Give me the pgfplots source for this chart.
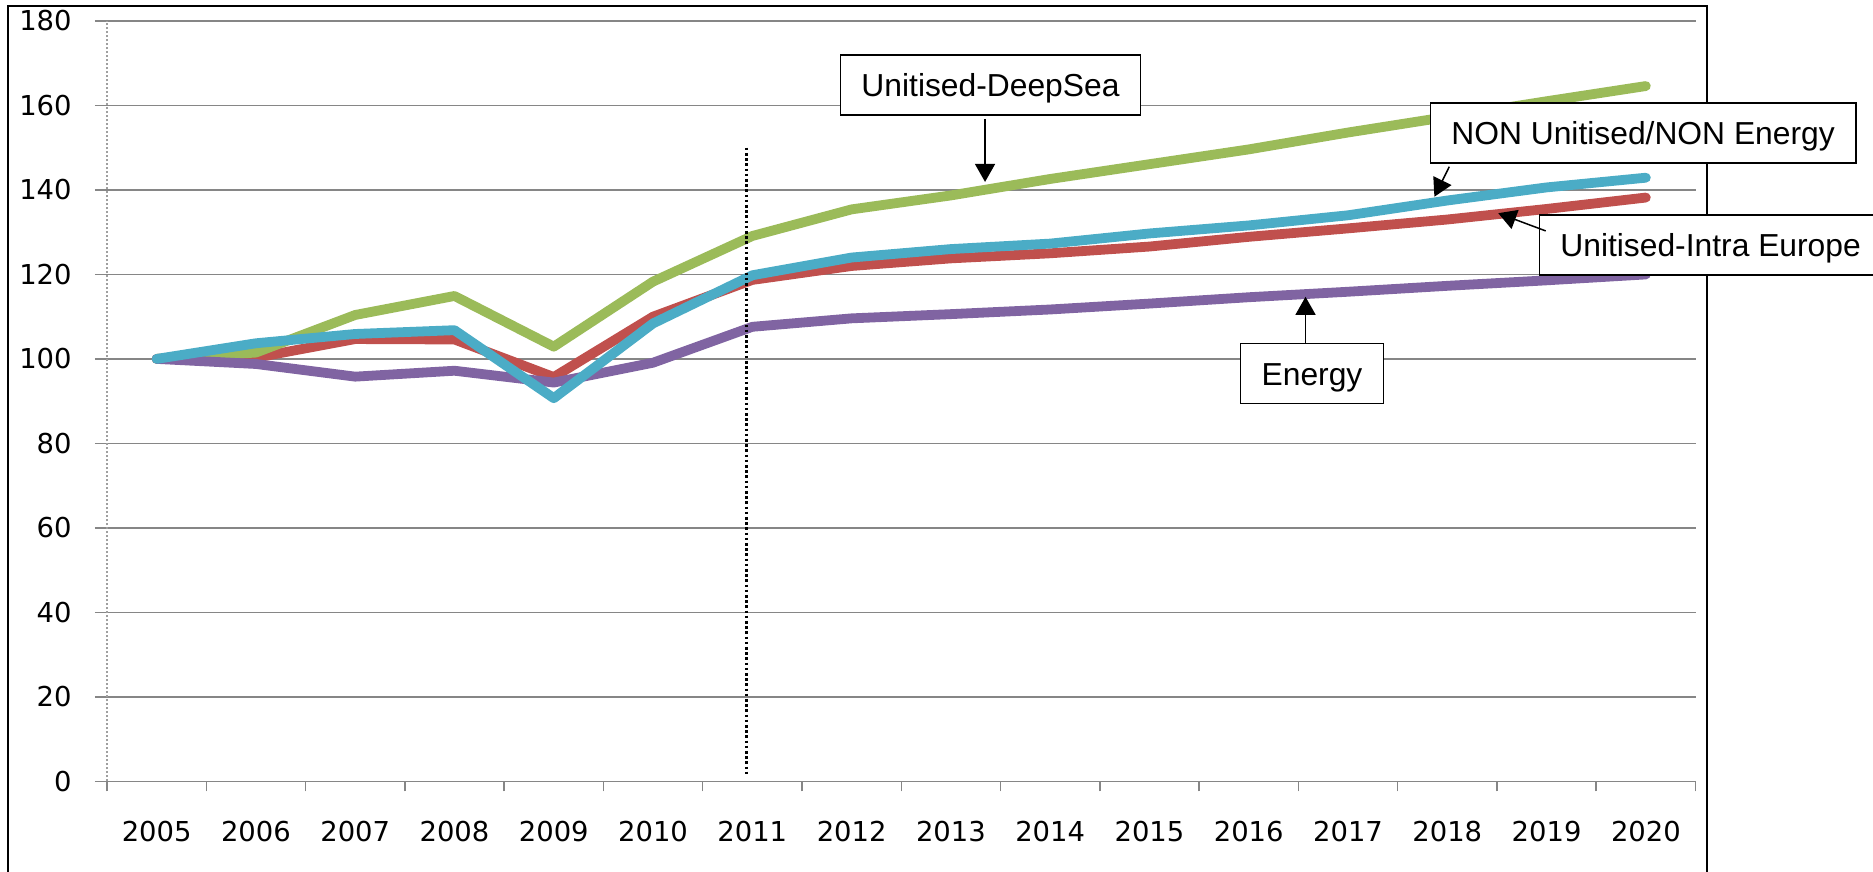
\documentclass[border=0pt]{standalone}
\usepackage{fontspec}
\setmainfont{Liberation Sans}
\newfontfamily\dejavu{DejaVu Sans}
\usepackage{pgfplots}
\pgfplotsset{compat=1.18}
\usetikzlibrary{arrows.meta}
\definecolor{cRed}{RGB}{192,80,77}
\definecolor{cGreen}{RGB}{155,187,89}
\definecolor{cPurple}{RGB}{128,100,162}
\definecolor{cCyan}{RGB}{75,172,198}
\definecolor{gridgray}{RGB}{134,134,134}
\tikzset{
  lbl/.style={draw=black, line width=0.8pt, fill=white, inner xsep=10.5pt, inner ysep=0pt,
    minimum height=30pt, text height=11.4pt, text depth=0pt,
    font=\fontsize{15.9}{18}\selectfont},
  arr/.style={-{Triangle[width=10pt,length=9pt]}, line width=0.75pt, black},
  ser/.style={line width=4.9pt, line cap=round, line join=round}
}
\begin{document}
\begin{tikzpicture}
\draw[line width=1pt] (-49.5pt,-80pt) -- (-49.5pt,387.65pt) -- (800pt,387.65pt) -- (800pt,-80pt);
\begin{axis}[
  at={(0,0)}, anchor=south west,
  scale only axis, width=794.25pt, height=380.15pt,
  xmin=-0.5, xmax=15.5, ymin=0, ymax=180,
  clip=false,
  ytick={0,20,...,180},
  xtick={0,...,15},
  xticklabels={2005,2006,2007,2008,2009,2010,2011,2012,2013,2014,2015,2016,2017,2018,2019,2020},
  minor xtick={-0.5,0.5,...,15.5},
  axis x line*=bottom, axis y line*=left,
  x axis line style={draw=gridgray, line width=0.75pt},
  y axis line style={draw=gray!75, dash pattern=on 1.2pt off 0.8pt, line width=0.6pt},
  ymajorgrids, major grid style={draw=gridgray, line width=0.75pt},
  tick align=outside,
  major tick length=6pt, minor tick length=5pt,
  every tick/.style={draw=gridgray, line width=0.75pt},
  every major x tick/.style={draw=none},
  /pgf/number format/assume math mode=true,
  ticklabel style={font=\fontsize{13.7}{16}\selectfont\dejavu, text=black},
  yticklabel style={anchor=east, inner sep=0pt, xshift=-11.5pt},
  xticklabel style={anchor=base, inner sep=0pt, yshift=-24pt},
]
\addplot[cRed, ser] coordinates {
(0,100) (1,100.3) (2,104.7) (3,104.6) (4,95.7) (5,110.0) (6,118.7) (7,122.0)
(8,123.8) (9,125.0) (10,126.6) (11,128.9) (12,130.9) (13,133.0) (14,135.5) (15,138.2)};
\addplot[cGreen, ser] coordinates {
(0,100) (1,101.5) (2,110.4) (3,114.9) (4,102.9) (5,118.3) (6,129.1) (7,135.4)
(8,138.7) (9,142.6) (10,146.1) (11,149.6) (12,153.6) (13,157.3) (14,161.0) (15,164.6)};
\addplot[cPurple, ser] coordinates {
(0,100) (1,98.8) (2,95.8) (3,97.2) (4,94.4) (5,99.1) (6,107.6) (7,109.6)
(8,110.6) (9,111.7) (10,113.1) (11,114.6) (12,115.9) (13,117.3) (14,118.6) (15,120.0)};
\addplot[cCyan, ser] coordinates {
(0,100) (1,103.7) (2,105.9) (3,106.8) (4,90.7) (5,108.4) (6,119.8) (7,124.0)
(8,126.0) (9,127.3) (10,129.7) (11,131.6) (12,134.0) (13,137.5) (14,140.6) (15,142.9)};
\addplot[black, line width=1.3pt, dash pattern=on 1.3pt off 1.3pt] coordinates {(5.94,150) (5.94,1.5)};
\node[lbl] at (axis cs:8.399,164.8) {Unitised-DeepSea};
\draw[arr] (axis cs:8.344,156.8) -- (axis cs:8.344,141.9);
\node[lbl] at (axis cs:14.972,153.5) {NON Unitised/NON Energy};
\draw[arr] (axis cs:13.02,145.5) -- (axis cs:12.87,138.4);
\node[lbl] at (axis cs:15.652,127.0) {Unitised-Intra Europe};
\draw[arr] (axis cs:13.991,130.3) -- (axis cs:13.513,134.5);
\node[lbl] at (axis cs:11.637,96.5) {Energy};
\draw[arr] (axis cs:11.572,103.7) -- (axis cs:11.572,114.7);
\end{axis}
\pgfresetboundingbox
\useasboundingbox (-53.5pt,-45.35pt) rectangle (883pt,390.65pt);
\end{tikzpicture}
\end{document}
